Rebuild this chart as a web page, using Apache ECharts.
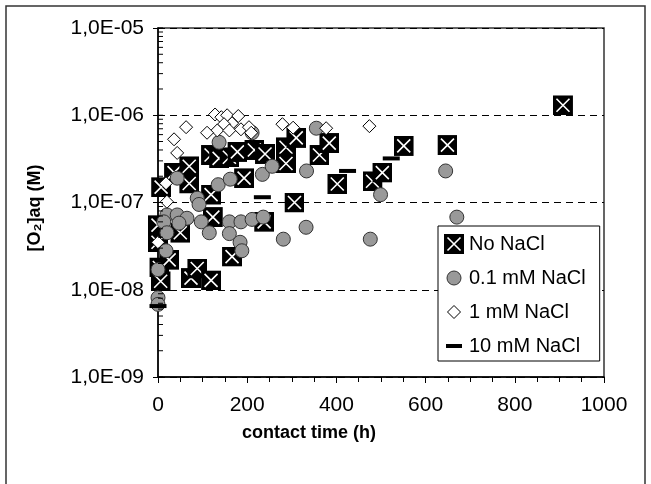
<!DOCTYPE html>
<html><head><meta charset="utf-8">
<script src="https://cdn.jsdelivr.net/npm/echarts@6/dist/echarts.min.js"></script>
<style>html,body{margin:0;padding:0;background:#fff}#c{width:651px;height:484px}</style>
</head><body><div id="c"></div>
<script>
// ---- data: [contact time (h), [O2]aq (M)] ----
const noNaCl = [
  [0,5.5e-8],[0,3.5e-8],[3,1.8e-8],[6,1.25e-8],[7,1.5e-7],[25,2.2e-8],[36,2.2e-7],[50,4.5e-8],
  [70,2.6e-7],[70,1.65e-7],[74,1.36e-8],[88,1.75e-8],[119,3.5e-7],[119,1.23e-7],[123,6.8e-8],
  [119,1.28e-8],[137,3.2e-7],[160,3.3e-7],[166,2.4e-8],[178,3.8e-7],[193,1.9e-7],[216,4.0e-7],
  [240,3.6e-7],[238,6.0e-8],[287,4.3e-7],[287,2.8e-7],[306,1.0e-7],[310,5.5e-7],[362,3.5e-7],
  [384,4.8e-7],[402,1.63e-7],[481,1.75e-7],[503,2.2e-7],[551,4.45e-7],[649,4.55e-7],[908,1.3e-6]
];
const nacl01 = [
  [355,7.1e-7],[211,6.3e-7],[137,4.9e-7],[43,1.9e-7],[135,1.6e-7],[162,1.85e-7],[234,2.1e-7],
  [256,2.6e-7],[333,2.3e-7],[499,1.23e-7],[645,2.3e-7],[670,6.8e-8],[88,1.12e-7],[92,9.5e-8],
  [20,7.2e-8],[43,7.2e-8],[65,6.6e-8],[47,5.8e-8],[97,6.0e-8],[115,4.5e-8],[13,6.0e-8],[20,4.5e-8],
  [18,2.8e-8],[0,1.7e-8],[0,8.1e-9],[0,6.8e-9],[160,6.0e-8],[186,6.0e-8],[211,6.4e-8],[236,6.8e-8],
  [160,4.4e-8],[184,3.5e-8],[188,2.8e-8],[281,3.8e-8],[332,5.2e-8],[476,3.8e-8]
];
const nacl1 = [
  [128,1.02e-6],[142,9.5e-7],[155,1.0e-6],[180,9.8e-7],[166,8.1e-7],[148,7.9e-7],[133,6.7e-7],
  [110,6.3e-7],[160,6.7e-7],[186,6.9e-7],[204,7.3e-7],[209,6.3e-7],[63,7.3e-7],[36,5.3e-7],
  [43,3.7e-7],[279,7.9e-7],[303,7.2e-7],[377,7.1e-7],[474,7.5e-7],[18,1.66e-7],[20,1.02e-7],[0,3.5e-8]
];
const nacl10 = [[234,1.15e-7],[425,2.3e-7],[523,3.2e-7],[0,6.5e-9]];
const seriesNames = ['No NaCl','0.1 mM NaCl','1 mM NaCl','10 mM NaCl'];
const yDecades = [-9,-8,-7,-6,-5];

const FONT = '"Liberation Sans", Arial, sans-serif';
function svgUri(s){ return 'image://data:image/svg+xml;charset=utf-8,' + encodeURIComponent(s); }
const boxIcon = svgUri('<svg xmlns="http://www.w3.org/2000/svg" width="20" height="20" viewBox="0 0 20 20"><rect width="20" height="20" fill="#000"/><path d="M3.5,3.5L16.5,16.5M16.5,3.5L3.5,16.5" stroke="#fff" stroke-width="1.6"/></svg>');
const circIcon = svgUri('<svg xmlns="http://www.w3.org/2000/svg" width="20" height="20" viewBox="0 0 20 20"><circle cx="10" cy="10" r="7" fill="#999" stroke="#333" stroke-width="1"/></svg>');
const diaIcon = svgUri('<svg xmlns="http://www.w3.org/2000/svg" width="20" height="20" viewBox="0 0 20 20"><polygon points="10,3.5 16.5,10 10,16.5 3.5,10" fill="#fff" stroke="#000" stroke-width="1"/></svg>');
const dashIcon = svgUri('<svg xmlns="http://www.w3.org/2000/svg" width="20" height="20" viewBox="0 0 20 20"><rect x="2" y="8" width="16" height="4" fill="#000"/></svg>');

// minor log ticks (axis decoration)
const yMinor = [];
yDecades.slice(0,-1).forEach(function(e){ for (let k=1;k<=9;k++) yMinor.push([0, k*Math.pow(10,e)]); });
yMinor.push([0, 1e-5]);

const chart = echarts.init(document.getElementById('c'), null, {renderer:'canvas'});
chart.setOption({
  animation: false,
  backgroundColor: '#fff',
  textStyle: {fontFamily: FONT},
  grid: {left:158, right:47, top:28, bottom:107, show:true, borderColor:'#333', borderWidth:1.5, backgroundColor:'transparent'},
  xAxis: {
    type:'value', min:0, max:1000, interval:200,
    axisLine:{onZero:false, lineStyle:{color:'#000', width:1.5}},
    axisTick:{length:6, lineStyle:{color:'#000', width:1}},
    minorTick:{show:true, splitNumber:4, length:5, lineStyle:{color:'#000', width:1}},
    splitLine:{show:false},
    axisLabel:{fontSize:21, color:'#000', margin:18, fontFamily:FONT, formatter:function(v){ return String(v); }}
  },
  yAxis: {
    type:'log', logBase:10, min:1e-9, max:1e-5,
    axisLine:{onZero:false, lineStyle:{color:'#000', width:1.5}},
    axisTick:{length:5, lineStyle:{color:'#000', width:1}},
    splitLine:{show:true, lineStyle:{color:'#000', width:1, type:[7,5]}},
    axisLabel:{fontSize:21, color:'#000', margin:14, fontFamily:FONT,
      formatter:function(v){ const e=Math.round(Math.log10(v)); const a=Math.abs(e); return '1,0E' + (e<0?'-':'+') + (a<10?'0':'') + a; }}
  },
  legend: {
    orient:'vertical', left:438, top:226,
    data:[{name:seriesNames[0], icon:boxIcon},{name:seriesNames[1], icon:circIcon},{name:seriesNames[2], icon:diaIcon},{name:seriesNames[3], icon:dashIcon}],
    itemWidth:20, itemHeight:20, itemGap:14,
    padding:[8,14,5,6],
    backgroundColor:'#fff', borderColor:'#000', borderWidth:1, borderRadius:0,
    textStyle:{fontSize:20, color:'#000', fontFamily:FONT},
    selectedMode:false
  },
  graphic: [
    {type:'rect', shape:{x:6, y:6, width:639, height:482}, style:{fill:'none', stroke:'#333', lineWidth:1.5}, silent:true, z:-1},
    {type:'text', x:309, y:433, style:{text:'contact time (h)', font:'bold 18px ' + FONT, fill:'#000', align:'center', verticalAlign:'middle', textAlign:'center', textVerticalAlign:'middle'}},
    {type:'text', x:35, y:208, rotation:Math.PI/2, style:{text:'[O₂]aq (M)', font:'bold 18px ' + FONT, fill:'#000', align:'center', verticalAlign:'middle', textAlign:'center', textVerticalAlign:'middle'}}
  ],
  series: [
    {name:seriesNames[0], type:'scatter', data:noNaCl, symbol:boxIcon, symbolSize:20, z:2, itemStyle:{opacity:1}, emphasis:{disabled:true}},
    {name:seriesNames[1], type:'scatter', data:nacl01, symbol:'circle', symbolSize:14, z:3, itemStyle:{color:'#999999', borderColor:'#333', borderWidth:1, opacity:1}, emphasis:{disabled:true}},
    {name:seriesNames[2], type:'scatter', data:nacl1, symbol:'diamond', symbolSize:13, z:4, itemStyle:{color:'#fff', borderColor:'#000', borderWidth:1, opacity:1}, emphasis:{disabled:true}},
    {name:seriesNames[3], type:'scatter', data:nacl10, symbol:'rect', symbolSize:[17,4], z:5, itemStyle:{color:'#000', opacity:1}, emphasis:{disabled:true}},
    {name:'minorTicks', type:'scatter', data:yMinor, symbol:'rect', symbolSize:[5,1], symbolOffset:[2.5,0], z:6, silent:true, itemStyle:{color:'#000', opacity:1}, emphasis:{disabled:true}, clip:false}
  ]
});
</script>
</body></html>
